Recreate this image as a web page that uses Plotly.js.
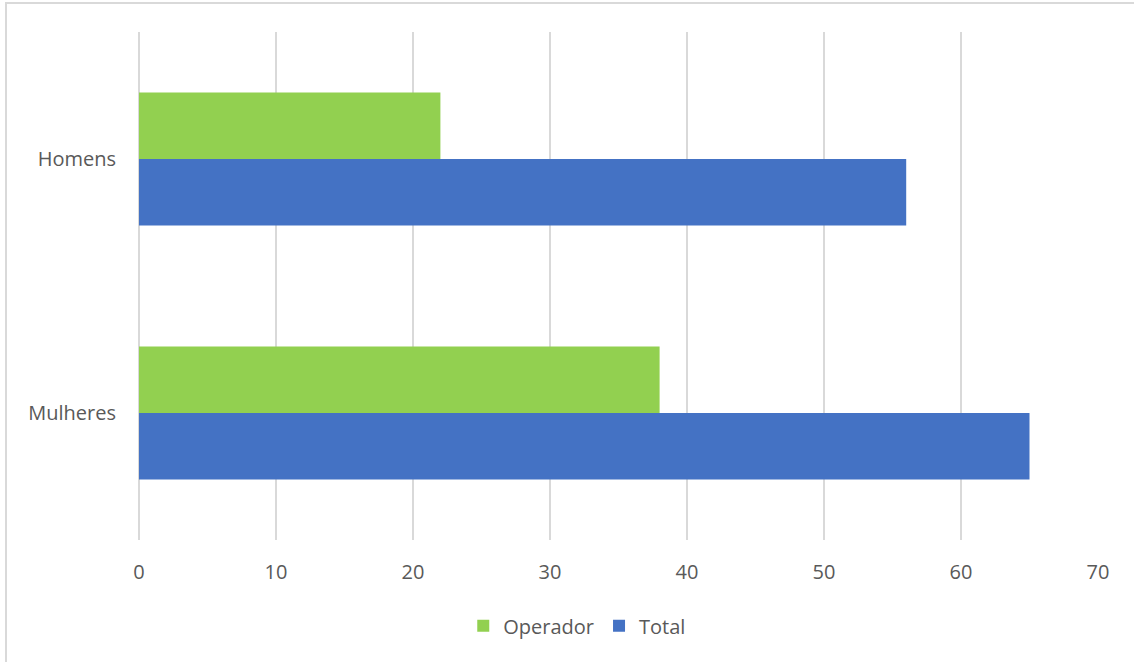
<!DOCTYPE html>
<html>
<head>
<meta charset="utf-8">
<script src="https://cdn.plot.ly/plotly-3.0.1.min.js"></script>
<style>
  html, body { margin: 0; padding: 0; background: #ffffff; overflow: hidden; }
  #wrap { position: relative; width: 1134px; height: 662px; }
  #frame { position: absolute; left: 5px; top: 2px; width: 1140px; height: 670px;
           border: 2px solid #d9d9d9; box-sizing: border-box; pointer-events: none; }
  #chart { position: absolute; left: 0; top: 0; width: 1134px; height: 662px; }
</style>
</head>
<body>
<div id="wrap">
  <div id="chart"></div>
  <div id="frame"></div>
</div>
<script>
// Categories (bottom to top) and series values
const categories = ['Mulheres', 'Homens'];
const operador = [38, 22];
const total = [65, 56];
const xTicks = [0, 10, 20, 30, 40, 50, 60, 70];

const font = { family: 'Open Sans, Calibri, sans-serif', size: 20, color: '#595959' };

const traces = [
  { type: 'bar', orientation: 'h', name: 'Total', y: categories, x: total,
    marker: { color: '#4472c4' }, hoverinfo: 'x+name' },
  { type: 'bar', orientation: 'h', name: 'Operador', y: categories, x: operador,
    marker: { color: '#92d050' }, hoverinfo: 'x+name' }
];

const layout = {
  width: 1134, height: 662,
  margin: { l: 139, r: 36, t: 32, b: 122 },
  paper_bgcolor: '#ffffff', plot_bgcolor: '#ffffff',
  font: font,
  barmode: 'group',
  bargap: 0.476, bargroupgap: 0,
  showlegend: true,
  legend: {
    orientation: 'h', traceorder: 'reversed',
    x: 0.457, xanchor: 'center', y: -0.169, yanchor: 'middle',
    font: font, itemwidth: 30
  },
  xaxis: {
    range: [0, 70], tickvals: xTicks, ticktext: xTicks.map(String),
    showgrid: true, gridcolor: '#d9d9d9', gridwidth: 1.5,
    zeroline: true, zerolinecolor: '#d9d9d9', zerolinewidth: 1.5,
    showline: false, ticks: '', ticklabelstandoff: 18,
    tickfont: font, fixedrange: true
  },
  yaxis: {
    type: 'category', categoryorder: 'array', categoryarray: categories,
    range: [-0.5, 1.5],
    showgrid: false, zeroline: false, showline: false,
    ticks: '', ticklabelstandoff: 22,
    tickfont: font, fixedrange: true
  }
};

Plotly.newPlot('chart', traces, layout, { displayModeBar: false, staticPlot: true });
</script>
</body>
</html>
